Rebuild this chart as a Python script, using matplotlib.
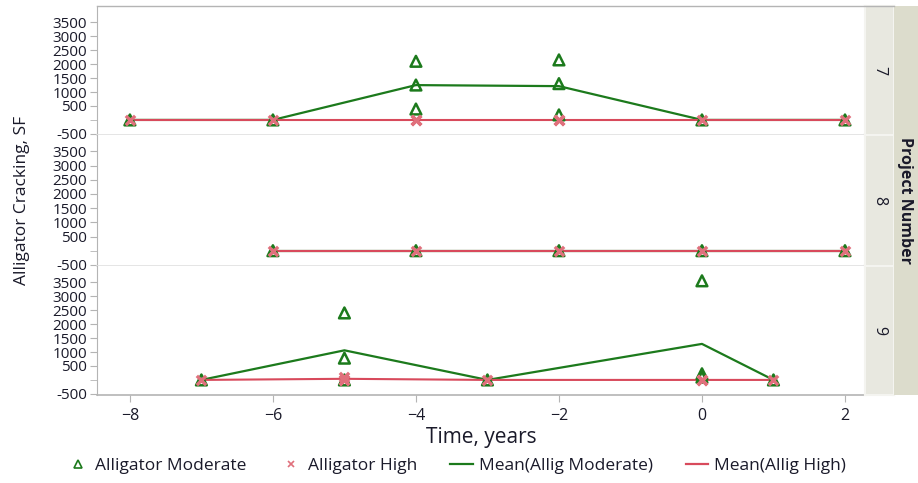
import numpy as np
import matplotlib
matplotlib.use("Agg")
import matplotlib.pyplot as plt
from matplotlib.lines import Line2D

plt.rcParams['font.family'] = ['Open Sans', 'DejaVu Sans']

# Observations per project: time (years) and alligator cracking (SF)
projects = ["7", "8", "9"]
p7_time = [-8, -6, -4, -4, -4, -2, -2, -2, 0, 2]
p7_moderate = [0, 0, 2100, 1250, 390, 2150, 1300, 180, 0, 0]
p7_high = [0, 0, 0, 0, 0, 0, 0, 0, 0, 0]

p8_time = [-6, -4, -2, 0, 2]
p8_moderate = [0, 0, 0, 0, 0]
p8_high = [0, 0, 0, 0, 0]

p9_time = [-7, -5, -5, -5, -3, 0, 0, 0, 1]
p9_moderate = [0, 2400, 780, 0, 0, 3550, 220, 100, 0]
p9_high = [0, 0, 120, 0, 0, 0, 0, 0, 0]

y_ticks = [-500, 500, 1000, 1500, 2000, 2500, 3000, 3500]
x_ticks = [-8, -6, -4, -2, 0, 2]

GREEN = "#1c7a1c"
RED_MARK = "#e0707c"
RED_LINE = "#d84a5c"
FRAME = "#b4b4b4"
DIVIDER = "#e0e0e0"
TEXT = "#1a1a2a"

data = [(p7_time, p7_moderate, p7_high),
        (p8_time, p8_moderate, p8_high),
        (p9_time, p9_moderate, p9_high)]

W, H = 918, 483
fig = plt.figure(figsize=(W / 100, H / 100), dpi=100)

left_px, right_px = 97, 865
tops = [6, 135, 266]
bottoms = [135, 266, 395]


def fx(px):
    return px / W


def fy(py):
    return 1 - py / H


def group_means(t, v):
    t = np.asarray(t, float)
    v = np.asarray(v, float)
    ut = np.unique(t)
    return ut, np.array([v[t == u].mean() for u in ut])


for i, (proj, (t, mod, high)) in enumerate(zip(projects, data)):
    ax = fig.add_axes([fx(left_px), fy(bottoms[i]),
                       fx(right_px - left_px), (bottoms[i] - tops[i]) / H])
    mt, mm = group_means(t, mod)
    ht, hm = group_means(t, high)
    ax.plot(mt, mm, color=GREEN, lw=1.6, zorder=2)
    ax.plot(ht, hm, color=RED_LINE, lw=1.5, zorder=3)
    ax.scatter(t, mod, marker="^", s=60, facecolors="none",
               edgecolors=GREEN, linewidths=1.8, zorder=4)
    ax.scatter(t, high, marker="x", s=45, color=RED_MARK,
               linewidths=2.4, zorder=5)

    ax.set_xlim(-8.46, 2.28)
    ax.set_ylim(-540, 4080)
    ax.set_yticks(y_ticks)
    ax.set_yticks([0], minor=True)
    ax.set_yticklabels([str(v) for v in y_ticks])
    ax.tick_params(axis="y", which="both", direction="out", length=5,
                   color=FRAME, labelsize=11, labelcolor=TEXT, pad=2)
    for side in ["top", "right"]:
        ax.spines[side].set_visible(False)
    ax.spines["left"].set_color(FRAME)
    ax.spines["bottom"].set_color(DIVIDER if i < 2 else FRAME)
    ax.spines["bottom"].set_linewidth(1.2)
    if i < 2:
        ax.set_xticks([])
    else:
        ax.set_xticks(x_ticks)
        ax.tick_params(axis="x", direction="out", length=5, color=FRAME,
                       labelsize=11.5, labelcolor=TEXT, pad=4)

    # strip with project number
    strip = fig.add_axes([fx(right_px), fy(bottoms[i]), fx(894 - right_px),
                          (bottoms[i] - tops[i]) / H])
    strip.set_facecolor("#e8e8e0")
    strip.set_xticks([])
    strip.set_yticks([])
    for s in strip.spines.values():
        s.set_color("#f4f4f0")
        s.set_linewidth(1.5)
    strip.text(0.5, 0.5, proj, rotation=-90, ha="center", va="center",
               fontsize=11.5, color=TEXT, transform=strip.transAxes)

# top border of the panel area
fig.add_artist(Line2D([fx(left_px), fx(894)], [fy(6), fy(6)],
                      color=FRAME, lw=1.0))

# outer strip with grouping title
outer = fig.add_axes([fx(894), fy(395), fx(W - 894), (395 - 6) / H])
outer.set_facecolor("#dcdccc")
outer.set_xticks([])
outer.set_yticks([])
for s in outer.spines.values():
    s.set_visible(False)
outer.text(0.45, 0.5, "Project Number", rotation=-90, ha="center",
           va="center", fontsize=11.5, fontweight="bold", color=TEXT,
           transform=outer.transAxes)

fig.text(fx(22), fy(200), "Alligator Cracking, SF", rotation=90,
         ha="center", va="center", fontsize=12.5, color=TEXT)
fig.text(fx(481), fy(437), "Time, years", ha="center", va="center",
         fontsize=15, color=TEXT)

handles = [
    Line2D([], [], ls="none", marker="^", markersize=6,
           markerfacecolor="none", markeredgecolor=GREEN, markeredgewidth=1.2),
    Line2D([], [], ls="none", marker="x", markersize=5, color=RED_MARK,
           markeredgewidth=1.2),
    Line2D([], [], color=GREEN, lw=1.6),
    Line2D([], [], color=RED_LINE, lw=1.6),
]
labels = ["Alligator Moderate", "Alligator High",
          "Mean(Allig Moderate)", "Mean(Allig High)"]
fig.legend(handles, labels, loc="center", bbox_to_anchor=(0.497, fy(466)),
           ncol=4, frameon=False, fontsize=12.5, handlelength=1.3,
           handletextpad=0.35, columnspacing=1.9, labelcolor=TEXT)

fig.savefig("out.png", dpi=100, facecolor="white")
